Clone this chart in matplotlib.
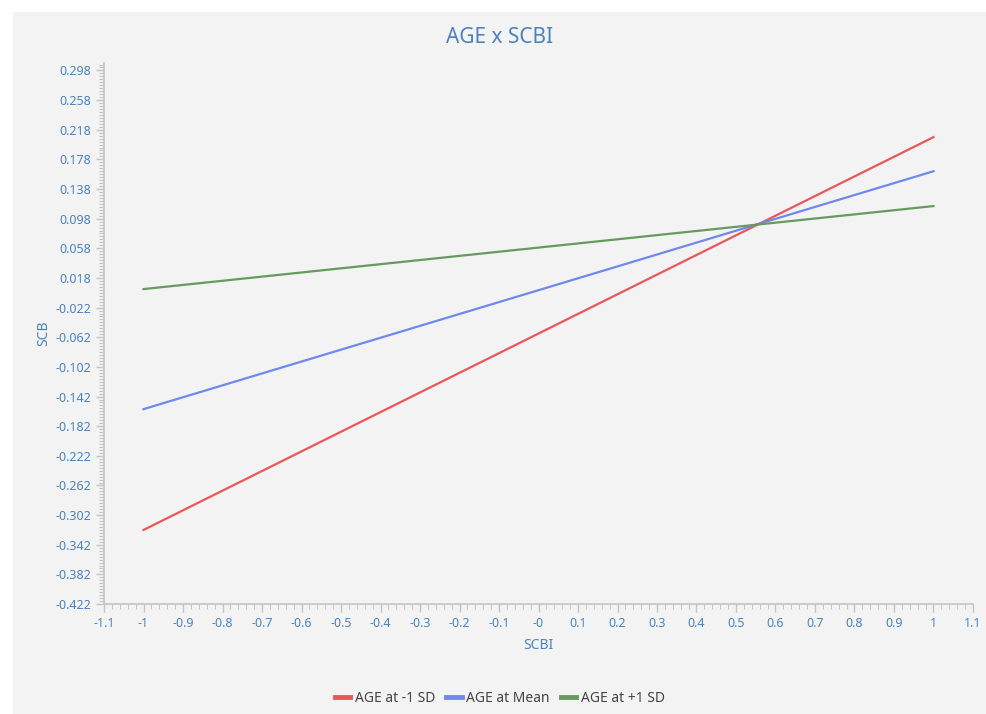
import numpy as np
import matplotlib
matplotlib.use("Agg")
import matplotlib.pyplot as plt
from matplotlib.patches import Rectangle
from matplotlib.ticker import MultipleLocator, FixedLocator

plt.rcParams['font.family'] = ['Noto Sans', 'DejaVu Sans']

# endpoints of the simple slopes (SCBI = -1 and SCBI = 1)
scbi = [-1.0, 1.0]
age_low = [-0.322, 0.208]
age_mean = [-0.159, 0.162]
age_high = [0.003, 0.115]

series_names = ["AGE at -1 SD", "AGE at Mean", "AGE at +1 SD"]
series_colors = ["#e8585a", "#7088ee", "#679a5f"]

x_ticks = [-1.1, -1.0, -0.9, -0.8, -0.7, -0.6, -0.5, -0.4, -0.3, -0.2, -0.1, 0.0,
           0.1, 0.2, 0.3, 0.4, 0.5, 0.6, 0.7, 0.8, 0.9, 1.0, 1.1]
x_labels = ["-1.1", "-1", "-0.9", "-0.8", "-0.7", "-0.6", "-0.5", "-0.4", "-0.3", "-0.2",
            "-0.1", "-0", "0.1", "0.2", "0.3", "0.4", "0.5", "0.6", "0.7", "0.8", "0.9",
            "1", "1.1"]
y_ticks = [-0.422, -0.382, -0.342, -0.302, -0.262, -0.222, -0.182, -0.142, -0.102,
           -0.062, -0.022, 0.018, 0.058, 0.098, 0.138, 0.178, 0.218, 0.258, 0.298]

label_blue = "#4a83bd"
tick_gray = "#c4c4c4"

fig = plt.figure(figsize=(9.86, 7.14), dpi=100)
fig.patches.append(Rectangle((13 / 986, 0), 1 - 13 / 986, 702 / 714,
                             transform=fig.transFigure, facecolor="#f3f3f3",
                             edgecolor="none", zorder=-10))

ax = fig.add_axes([0.1055, 0.154, 0.8813, 0.7577])
ax.set_facecolor("none")

for vals, name, col in zip([age_low, age_mean, age_high], series_names, series_colors):
    ax.plot(scbi, vals, color=col, linewidth=1.6, label=name)

ax.set_xlim(-1.1, 1.1)
ax.set_ylim(-0.422, 0.308)

ax.xaxis.set_major_locator(FixedLocator(x_ticks))
ax.set_xticklabels(x_labels)
ax.xaxis.set_minor_locator(MultipleLocator(0.02))
ax.yaxis.set_major_locator(FixedLocator(y_ticks))
ax.set_yticklabels([f"{v:.3f}" for v in y_ticks])
ax.yaxis.set_minor_locator(FixedLocator(np.arange(-0.422, 0.3081, 0.004)))

ax.tick_params(which="major", length=6, width=1, color=tick_gray,
               labelcolor=label_blue, labelsize=9, pad=3)
ax.tick_params(which="minor", length=3.5, width=0.8, color=tick_gray)

for side in ["top", "right"]:
    ax.spines[side].set_visible(False)
for side in ["left", "bottom"]:
    ax.spines[side].set_color(tick_gray)
    ax.spines[side].set_linewidth(1.2)

ax.set_xlabel("SCBI", color=label_blue, fontsize=10, labelpad=6)
ax.set_ylabel("SCB", color=label_blue, fontsize=10, labelpad=3)

fig.text(0.507, 0.947, "AGE x SCBI", color=label_blue, fontsize=15,
         ha="center", va="center")

leg = fig.legend(loc="center", bbox_to_anchor=(0.507, 0.022), ncol=3, frameon=False,
                 fontsize=10, handlelength=1.1, handletextpad=0.35, columnspacing=0.8,
                 labelcolor="#444444")
for h in leg.legend_handles:
    h.set_linewidth(3.5)

fig.savefig("out.png", dpi=100)
